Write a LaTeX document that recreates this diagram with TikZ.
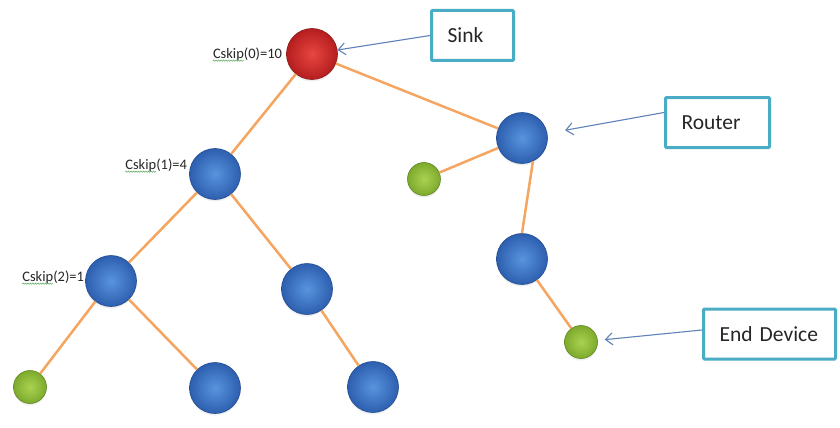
\documentclass[tikz,border=0pt]{standalone}
\usepackage{fontspec}
\setmainfont{Carlito}
\usepackage{xcolor}
\usepackage{tikz}
\usetikzlibrary{arrows.meta, positioning, calc, decorations.pathmorphing, shadows}

\definecolor{linkorange}{RGB}{245,165,95}
\definecolor{pointblue}{RGB}{95,130,185}
\definecolor{tagteal}{RGB}{75,172,198}
\definecolor{spellgreen}{RGB}{90,170,90}
\definecolor{blueIn}{RGB}{88,148,222}
\definecolor{blueOut}{RGB}{45,95,175}
\definecolor{blueRim}{RGB}{35,75,145}
\definecolor{redIn}{RGB}{232,70,65}
\definecolor{redOut}{RGB}{180,30,30}
\definecolor{redRim}{RGB}{140,25,25}
\definecolor{greenIn}{RGB}{170,210,80}
\definecolor{greenOut}{RGB}{125,170,45}
\definecolor{greenRim}{RGB}{95,135,35}

\begin{document}
\begin{tikzpicture}[
  x=1pt, y=-1pt,
  ball/.style={circle, inner sep=0pt, line width=0.6pt,
    drop shadow={opacity=0.12, shadow xshift=0pt, shadow yshift=-2pt}},
  blueball/.style={ball, minimum size=51pt, draw=blueRim, inner color=blueIn, outer color=blueOut},
  redball/.style={ball, minimum size=51pt, draw=redRim, inner color=redIn, outer color=redOut},
  greenball/.style={ball, minimum size=33pt, draw=greenRim, inner color=greenIn, outer color=greenOut},
  link/.style={draw=linkorange, line width=2.5pt},
  pointer/.style={draw=pointblue, line width=1.1pt, -{Straight Barb[length=7pt, width=12pt]}},
  tag/.style={draw=tagteal, line width=3pt, rounded corners=1pt, minimum height=50pt,
    inner xsep=16pt, align=left, text=black!85, font=\fontsize{21.5}{24}\selectfont},
  skiplabel/.style={inner sep=0pt, text=black!85, font=\fontsize{14.5}{16}\selectfont},
  spell/.style={draw=spellgreen, line width=0.5pt, decorate,
    decoration={snake, amplitude=0.7pt, segment length=2.5pt}}
]
\useasboundingbox (0,0) rectangle (840,428);
\fill[white] (0,0) rectangle (840,428);

% tree
\node[redball] (sink) at (312,54) {};
\node[blueball] (c1) at (215,174) {};
\node[blueball] (c2) at (111,281) {};
\node[blueball] (n1) at (307,289) {};
\node[blueball] (n2) at (215,388) {};
\node[blueball] (n3) at (373,387) {};
\node[greenball] (ed1) at (30,387) {};
\node[blueball] (rt) at (522,138) {};
\node[blueball] (rt2) at (522,259) {};
\node[greenball] (ed2) at (424,179) {};
\node[greenball] (ed3) at (581,342) {};

\draw[link] (sink) -- (c1);
\draw[link] (sink) -- (rt);
\draw[link] (rt) -- (ed2);
\draw[link] (rt.-65) -- (rt2.90);
\draw[link] (rt2) -- (ed3);
\draw[link] (c1) -- (c2);
\draw[link] (c1) -- (n1);
\draw[link] (c2) -- (ed1);
\draw[link] (c2) -- (n2);
\draw[link] (n1) -- (n3);

% skip labels
\node[skiplabel, left=4pt of sink] (l0) {Cskip(0)=10};
\node[skiplabel, left=2pt of c1, yshift=9pt] (l1) {Cskip(1)=4};
\node[skiplabel, left=1pt of c2, yshift=4pt] (l2) {Cskip(2)=1};
\foreach \l in {l0,l1,l2}
  \draw[spell] ($(\l.base west)+(0,2.5)$) -- ++(31,0);

% legend boxes
\node[tag, text width=50pt] (sinkbox) at (472.5,35.5) {Sink};
\node[tag, text width=72pt] (routerbox) at (717.5,122.5) {Router};
\node[tag, text width=100pt] (endbox) at (769.5,334) {End Device};

\draw[pointer] (sinkbox.west) -- (sink);
\draw[pointer, shorten >=18pt] ([yshift=10pt]routerbox.west) -- (rt);
\draw[pointer, shorten >=7pt] ([yshift=4pt]endbox.west) -- (ed3);
\end{tikzpicture}
\end{document}
